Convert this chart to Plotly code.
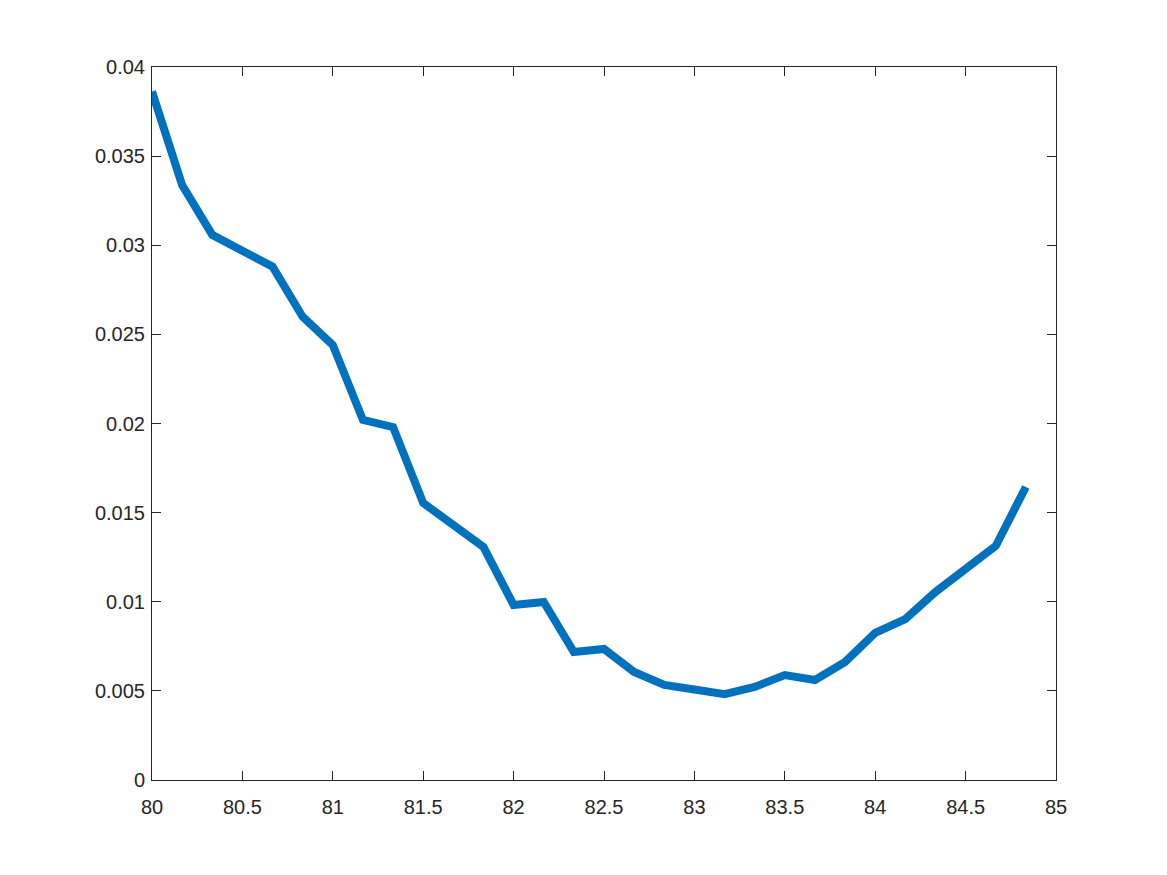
import plotly.graph_objects as go

x_vals = [80 + k / 6 for k in range(30)]
y_vals = [0.03862, 0.03338, 0.03058, 0.02973, 0.02880, 0.02599, 0.02440, 0.02020,
          0.01980, 0.01554, 0.01431, 0.01307, 0.00982, 0.00999, 0.00718, 0.00735,
          0.00606, 0.00533, 0.00508, 0.00482, 0.00522, 0.00589, 0.00561, 0.00662,
          0.00825, 0.00903, 0.01055, 0.01184, 0.01313, 0.01644]

fig = go.Figure()
fig.add_trace(go.Scatter(x=x_vals, y=y_vals, mode="lines",
                         line=dict(color="#0072BD", width=8), cliponaxis=False))

axis_common = dict(showgrid=False, zeroline=False, showline=True, mirror="ticks",
                   linecolor="#262626", linewidth=1, ticks="inside", ticklen=9,
                   tickcolor="#262626",
                   tickfont=dict(family="Liberation Sans, Arial, sans-serif", size=20, color="#262626"))

fig.update_layout(
    width=1159, height=867,
    paper_bgcolor="white", plot_bgcolor="white",
    margin=dict(l=144, r=111, t=59, b=95),
    showlegend=False,
    xaxis=dict(range=[80, 85], tick0=80, dtick=0.5, ticklabelstandoff=9, **axis_common),
    yaxis=dict(range=[0, 0.04], tick0=0, dtick=0.005, ticklabelstandoff=2, **axis_common),
)

fig.write_html("out.html")
